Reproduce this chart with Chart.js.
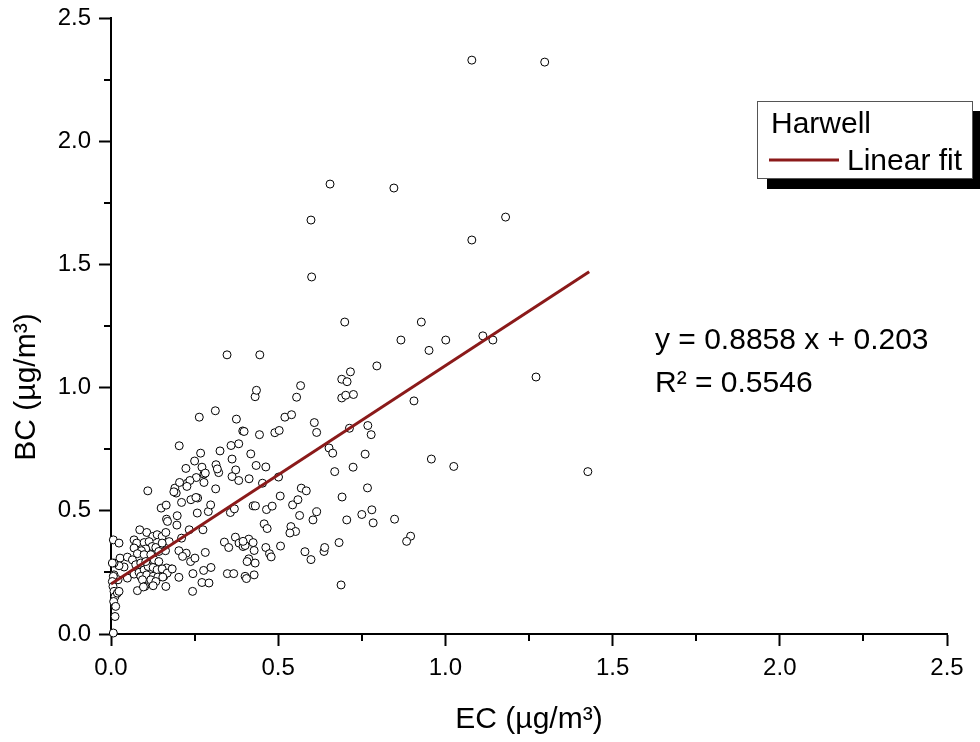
<!DOCTYPE html>
<html>
<head>
<meta charset="utf-8">
<title>Harwell BC vs EC</title>
<script src="https://cdn.jsdelivr.net/npm/chart.js@4.4.0/dist/chart.umd.min.js"></script>
<style>
html, body { margin: 0; padding: 0; background: #fff; }
canvas { display: block; }
</style>
</head>
<body>
<canvas id="bcEcChart" width="980" height="742"></canvas>
<script>
/* ===== Data ===== */
// Harwell samples: [EC, BC] in ug/m3
const harwellPoints = [
    [1.079,2.329],[1.297,2.321],[0.655,1.826],[0.846,1.810],[0.598,1.680],[1.180,1.692],[1.079,1.599],[0.600,1.449],[0.699,1.266],[0.928,1.266],
    [1.112,1.210],[1.142,1.193],[1.001,1.193],[0.867,1.193],[0.951,1.151],[0.347,1.133],[0.445,1.133],[1.271,1.043],[0.716,1.064],[0.690,1.034],
    [0.706,1.024],[0.795,1.088],[0.567,1.008],[0.690,0.958],[0.702,0.969],[0.725,0.972],[0.555,0.961],[0.431,0.963],[0.435,0.989],[0.906,0.946],
    [0.312,0.906],[0.264,0.880],[0.375,0.872],[0.520,0.880],[0.540,0.890],[0.394,0.824],[0.398,0.822],[0.444,0.809],[0.490,0.817],[0.503,0.826],
    [0.608,0.858],[0.615,0.818],[0.713,0.835],[0.768,0.846],[0.778,0.809],[0.204,0.764],[0.359,0.765],[0.382,0.772],[0.326,0.743],[0.418,0.731],
    [0.268,0.734],[0.652,0.755],[0.663,0.734],[0.760,0.730],[0.958,0.710],[1.025,0.680],[0.669,0.659],[0.724,0.677],[1.426,0.659],[0.362,0.710],
    [0.373,0.666],[0.362,0.639],[0.382,0.623],[0.434,0.684],[0.463,0.678],[0.413,0.630],[0.453,0.612],[0.501,0.637],[0.224,0.672],[0.250,0.702],
    [0.272,0.677],[0.255,0.635],[0.278,0.649],[0.278,0.615],[0.282,0.653],[0.228,0.612],[0.236,0.623],[0.314,0.687],[0.322,0.655],[0.318,0.670],
    [0.191,0.592],[0.205,0.615],[0.195,0.572],[0.211,0.534],[0.227,0.599],[0.188,0.577],[0.313,0.589],[0.110,0.581],[0.259,0.552],[0.239,0.545],
    [0.254,0.554],[0.150,0.511],[0.165,0.523],[0.166,0.466],[0.169,0.457],[0.198,0.480],[0.197,0.442],[0.234,0.423],[0.258,0.491],[0.275,0.423],
    [0.291,0.497],[0.298,0.524],[0.357,0.493],[0.369,0.508],[0.425,0.520],[0.432,0.520],[0.465,0.505],[0.482,0.519],[0.458,0.447],[0.467,0.428],
    [0.506,0.560],[0.543,0.524],[0.559,0.545],[0.569,0.592],[0.584,0.581],[0.564,0.481],[0.604,0.463],[0.615,0.496],[0.538,0.436],[0.552,0.416],
    [0.535,0.410],[0.637,0.335],[0.639,0.351],[0.580,0.334],[0.598,0.302],[0.691,0.556],[0.705,0.463],[0.750,0.485],[0.780,0.504],[0.784,0.451],
    [0.848,0.466],[0.896,0.397],[0.884,0.376],[0.682,0.371],[0.688,0.199],[0.767,0.593],[0.339,0.373],[0.352,0.351],[0.348,0.245],[0.367,0.245],
    [0.372,0.393],[0.383,0.369],[0.395,0.355],[0.412,0.385],[0.401,0.359],[0.425,0.371],[0.428,0.339],[0.412,0.305],[0.407,0.294],[0.431,0.288],
    [0.401,0.234],[0.405,0.225],[0.428,0.240],[0.463,0.351],[0.474,0.326],[0.479,0.313],[0.507,0.357],[0.282,0.331],[0.245,0.245],[0.244,0.173],
    [0.272,0.209],[0.293,0.207],[0.277,0.258],[0.299,0.270],[0.238,0.294],[0.251,0.308],[0.225,0.328],[0.203,0.338],[0.181,0.264],[0.203,0.230],
    [0.164,0.193],[0.158,0.234],[0.166,0.268],[0.395,0.376],[0.214,0.315],[0.211,0.389],
    [0.086,0.423],[0.107,0.412],[0.125,0.396],[0.138,0.403],[0.153,0.396],[0.164,0.412],[0.069,0.382],[0.077,0.369],[0.099,0.371],[0.114,0.375],
    [0.123,0.355],[0.134,0.351],[0.104,0.345],[0.091,0.338],[0.069,0.349],[0.079,0.326],[0.099,0.322],[0.119,0.322],[0.143,0.335],[0.163,0.338],
    [0.174,0.375],[0.153,0.369],[0.007,0.382],[0.024,0.369],[0.027,0.308],[0.049,0.312],[0.064,0.301],[0.039,0.272],[0.024,0.277],[0.009,0.288],
    [0.009,0.240],[0.021,0.220],[0.049,0.227],[0.069,0.243],[0.084,0.250],[0.099,0.261],[0.111,0.274],[0.126,0.270],[0.138,0.261],[0.153,0.264],
    [0.168,0.247],[0.183,0.264],[0.074,0.281],[0.089,0.288],[0.104,0.294],[0.129,0.301],[0.143,0.294],[0.089,0.234],[0.107,0.240],[0.126,0.234],
    [0.140,0.231],[0.155,0.231],[0.094,0.220],[0.119,0.220],[0.134,0.213],[0.126,0.196],[0.101,0.193],[0.079,0.176],[0.097,0.191],
    [0.007,0.234],[0.004,0.213],[0.006,0.193],[0.009,0.173],[0.012,0.152],[0.008,0.132],[0.014,0.112],[0.012,0.071],[0.007,0.004],[0.004,0.288],
    [0.019,0.166],[0.024,0.173]
];

// Linear fit: BC = slope * EC + intercept
const fitSlope = 0.8858;
const fitIntercept = 0.203;
const rSquared = 0.5546;
const fitRange = [0, 1.43];

const axisMin = 0;
const axisMax = 2.5;
const majorStep = 0.5;
const minorStep = 0.25;

const seriesName = 'Harwell';
const fitName = 'Linear fit';
const xTitle = 'EC (\u00b5g/m\u00b3)';
const yTitle = 'BC (\u00b5g/m\u00b3)';

const FONT = '"Liberation Sans", Arial, sans-serif';
const FIT_COLOR = '#8b1a1a';

/* ===== Helpers ===== */
const isMajor = v => Math.abs(v / majorStep - Math.round(v / majorStep)) < 1e-6;

const fitLine = fitRange.map(x => ({ x: x, y: fitSlope * x + fitIntercept }));

// short minor ticks between labelled ones
const minorTicks = {
    id: 'minorTicks',
    afterDraw(chart){
        const ctx = chart.ctx;
        const xs = chart.scales.x, ys = chart.scales.y;
        ctx.save();
        ctx.strokeStyle = '#000';
        ctx.lineWidth = 2;
        for(let v = axisMin; v <= axisMax + 1e-9; v += minorStep){
            if(isMajor(v)) continue;
            const px = Math.round(xs.getPixelForValue(v));
            ctx.beginPath();
            ctx.moveTo(px, xs.top);
            ctx.lineTo(px, xs.top + 7);
            ctx.stroke();
            const py = Math.round(ys.getPixelForValue(v));
            ctx.beginPath();
            ctx.moveTo(ys.right, py);
            ctx.lineTo(ys.right - 7, py);
            ctx.stroke();
        }
        ctx.restore();
    }
};

// axis titles, legend box and fit equation
const annotations = {
    id: 'annotations',
    afterDraw(chart){
        const ctx = chart.ctx;
        ctx.save();
        ctx.fillStyle = '#000';
        ctx.font = '30px ' + FONT;
        ctx.textBaseline = 'alphabetic';

        // axis titles
        ctx.textAlign = 'center';
        ctx.fillText(xTitle, 529, 728);
        ctx.save();
        ctx.translate(35, 387);
        ctx.rotate(-Math.PI / 2);
        ctx.fillText(yTitle, 0, 0);
        ctx.restore();

        // legend with drop shadow
        ctx.fillStyle = '#000';
        ctx.fillRect(767, 111, 216, 78);
        ctx.fillStyle = '#fff';
        ctx.fillRect(757, 101, 216, 78);
        ctx.strokeStyle = '#555';
        ctx.lineWidth = 1;
        ctx.strokeRect(757.5, 101.5, 215, 77);
        ctx.fillStyle = '#000';
        ctx.textAlign = 'left';
        ctx.fillText(seriesName, 771, 133);
        ctx.fillText(fitName, 847, 170);
        ctx.strokeStyle = FIT_COLOR;
        ctx.lineWidth = 3;
        ctx.beginPath();
        ctx.moveTo(769, 160);
        ctx.lineTo(839, 160);
        ctx.stroke();

        // fit equation
        ctx.fillStyle = '#000';
        ctx.fillText('y = ' + fitSlope + ' x + ' + fitIntercept, 655, 349);
        ctx.fillText('R\u00b2 = ' + rSquared, 655, 392);
        ctx.restore();
    }
};

/* ===== Chart ===== */
const scaleOptions = (fitFn) => ({
    type: 'linear',
    min: axisMin,
    max: axisMax,
    afterFit: fitFn,
    border: { display: true, color: '#000', width: 2 },
    grid: {
        display: true,
        drawOnChartArea: false,
        drawTicks: true,
        tickLength: 12,
        tickWidth: 2,
        tickColor: c => isMajor(c.tick.value) ? '#000' : 'rgba(0,0,0,0)'
    },
    ticks: {
        stepSize: minorStep,
        autoSkip: false,
        color: '#000',
        font: { family: FONT, size: 24 },
        padding: 8,
        maxRotation: 0,
        callback: v => isMajor(v) ? v.toFixed(1) : ''
    }
});

new Chart(document.getElementById('bcEcChart'), {
    type: 'scatter',
    data: {
        datasets: [
            {
                type: 'line',
                label: fitName,
                data: fitLine,
                borderColor: FIT_COLOR,
                borderWidth: 3,
                pointRadius: 0,
                fill: false,
                order: 0
            },
            {
                label: seriesName,
                data: harwellPoints.map(p => ({ x: p[0], y: p[1] })),
                pointStyle: 'circle',
                pointRadius: 4,
                pointBorderWidth: 1,
                borderColor: '#000',
                backgroundColor: '#fff',
                clip: false,
                order: 1
            }
        ]
    },
    options: {
        responsive: false,
        animation: false,
        devicePixelRatio: 1,
        layout: { padding: { left: 0, top: 18, right: 33, bottom: 0 } },
        plugins: {
            legend: { display: false },
            tooltip: { enabled: false },
            title: { display: false }
        },
        scales: {
            x: Object.assign(scaleOptions(s => { s.height = 108; }), { position: 'bottom' }),
            y: Object.assign(scaleOptions(s => {
                s.width = 111;
                s.paddingTop = 0;
                s.paddingBottom = 0;
            }), { position: 'left' })
        }
    },
    plugins: [minorTicks, annotations]
});
</script>
</body>
</html>
